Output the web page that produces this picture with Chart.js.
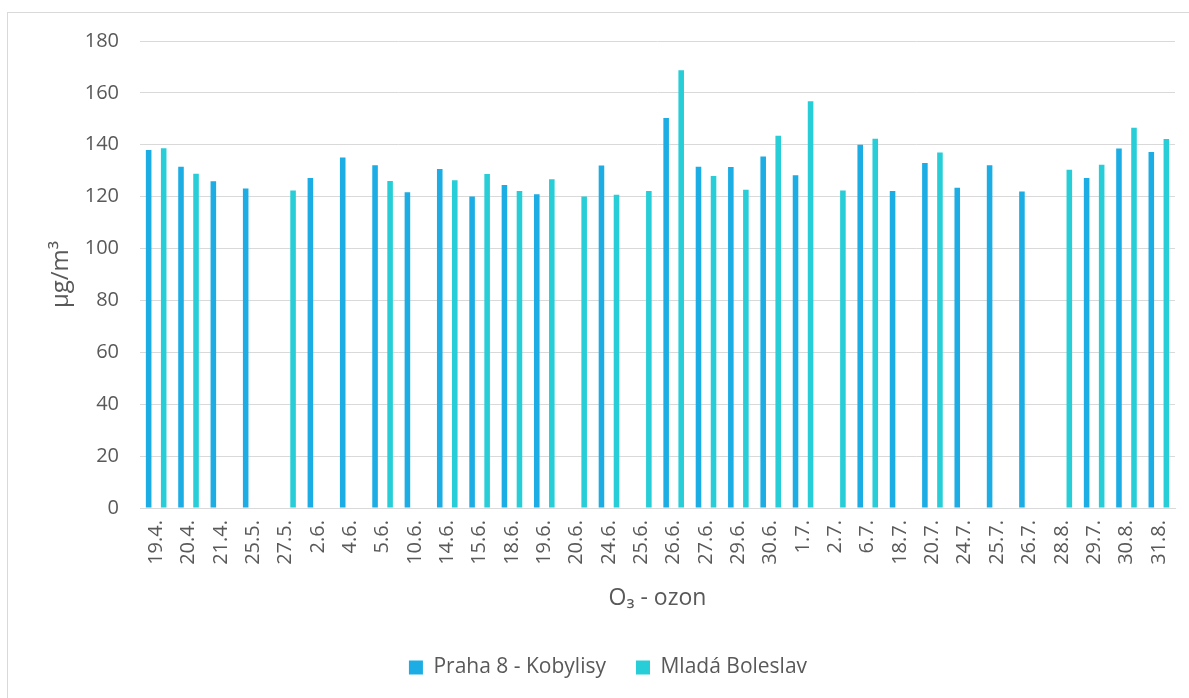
<!DOCTYPE html>
<html>
<head>
<meta charset="utf-8">
<script src="https://cdn.jsdelivr.net/npm/chart.js@4.4.1/dist/chart.umd.min.js"></script>
<style>
  html, body { margin: 0; padding: 0; background: #ffffff; overflow: hidden; }
  #frame {
    position: absolute; left: 7px; top: 12px;
    width: 1200px; height: 700px;
    border-left: 1px solid #d9d9d9; border-top: 1px solid #d9d9d9;
  }
  #wrap { position: absolute; left: 0; top: 0; width: 1189px; height: 698px; }
</style>
</head>
<body>
<div id="frame"></div>
<div id="wrap"><canvas id="chart" width="1189" height="698"></canvas></div>
<script>
// Measurement days
const categories = [
  '19.4.', '20.4.', '21.4.', '25.5.', '27.5.', '2.6.', '4.6.', '5.6.',
  '10.6.', '14.6.', '15.6.', '18.6.', '19.6.', '20.6.', '24.6.', '25.6.',
  '26.6.', '27.6.', '29.6.', '30.6.', '1.7.', '2.7.', '6.7.', '18.7.',
  '20.7.', '24.7.', '25.7.', '26.7.', '28.8.', '29.7.', '30.8.', '31.8.'
];

// Ozone concentrations, µg/m³ (null = no value for that day)
const prahaKobylisy = [
  138.0, 131.5, 125.9, 123.1, null, 127.2, 135.1, 132.1,
  121.7, 130.7, 120.1, 124.5, 120.9, null, 132.0, null,
  150.3, 131.5, 131.4, 135.5, 128.3, null, 140.0, 122.2,
  133.0, 123.4, 132.1, 122.0, null, 127.2, 138.6, 137.2
];
const mladaBoleslav = [
  138.7, 128.8, null, null, 122.4, null, null, 126.0,
  null, 126.3, 128.7, 122.2, 126.7, 120.1, 120.7, 122.2,
  168.7, 128.0, 122.7, 143.5, 156.8, 122.4, 142.3, null,
  137.0, null, null, null, 130.4, 132.3, 146.6, 142.2
];

const seriesNames = ['Praha 8 - Kobylisy', 'Mladá Boleslav'];
const yTicks = [0, 20, 40, 60, 80, 100, 120, 140, 160, 180];

const textColor = '#595959';
const gridColor = '#d9d9d9';
const fontFamily = "'Open Sans', 'Liberation Sans', sans-serif";

new Chart(document.getElementById('chart'), {
  type: 'bar',
  data: {
    labels: categories,
    datasets: [
      {
        label: seriesNames[0],
        data: prahaKobylisy,
        backgroundColor: '#1cade4',
        categoryPercentage: 0.93,
        barPercentage: 0.37
      },
      {
        label: seriesNames[1],
        data: mladaBoleslav,
        backgroundColor: '#27ced7',
        categoryPercentage: 0.93,
        barPercentage: 0.37
      }
    ]
  },
  options: {
    responsive: false,
    animation: false,
    layout: { padding: { left: 41, right: 14, top: 41, bottom: 10 } },
    plugins: {
      legend: {
        position: 'bottom',
        labels: {
          color: textColor,
          font: { family: fontFamily, size: 21 },
          boxWidth: 14,
          boxHeight: 14,
          padding: 30
        }
      },
      tooltip: { enabled: false }
    },
    scales: {
      x: {
        afterFit: (scale) => {
          scale.height = 119;
          scale.paddingLeft = 0;
          scale.paddingRight = 0;
        },
        grid: { display: false, drawTicks: false },
        border: { display: true, color: gridColor, width: 1 },
        ticks: {
          color: textColor,
          font: { family: fontFamily, size: 20 },
          minRotation: 90,
          maxRotation: 90,
          autoSkip: false,
          padding: 12
        },
        title: {
          display: true,
          text: 'O₃ - ozon',
          color: textColor,
          font: { family: fontFamily, size: 23 },
          padding: { top: 4, bottom: 15 }
        }
      },
      y: {
        min: 0,
        max: 180,
        afterBuildTicks: (axis) => { axis.ticks = yTicks.map(v => ({ value: v })); },
        afterFit: (scale) => { scale.width = 99; },
        grid: { color: gridColor, lineWidth: 1, drawTicks: false },
        border: { display: false },
        ticks: {
          color: textColor,
          font: { family: fontFamily, size: 20 },
          padding: 21
        },
        title: {
          display: true,
          text: 'µg/m³',
          color: textColor,
          font: { family: fontFamily, size: 24 },
          padding: { top: 6, bottom: 0 }
        }
      }
    }
  }
});
</script>
</body>
</html>
